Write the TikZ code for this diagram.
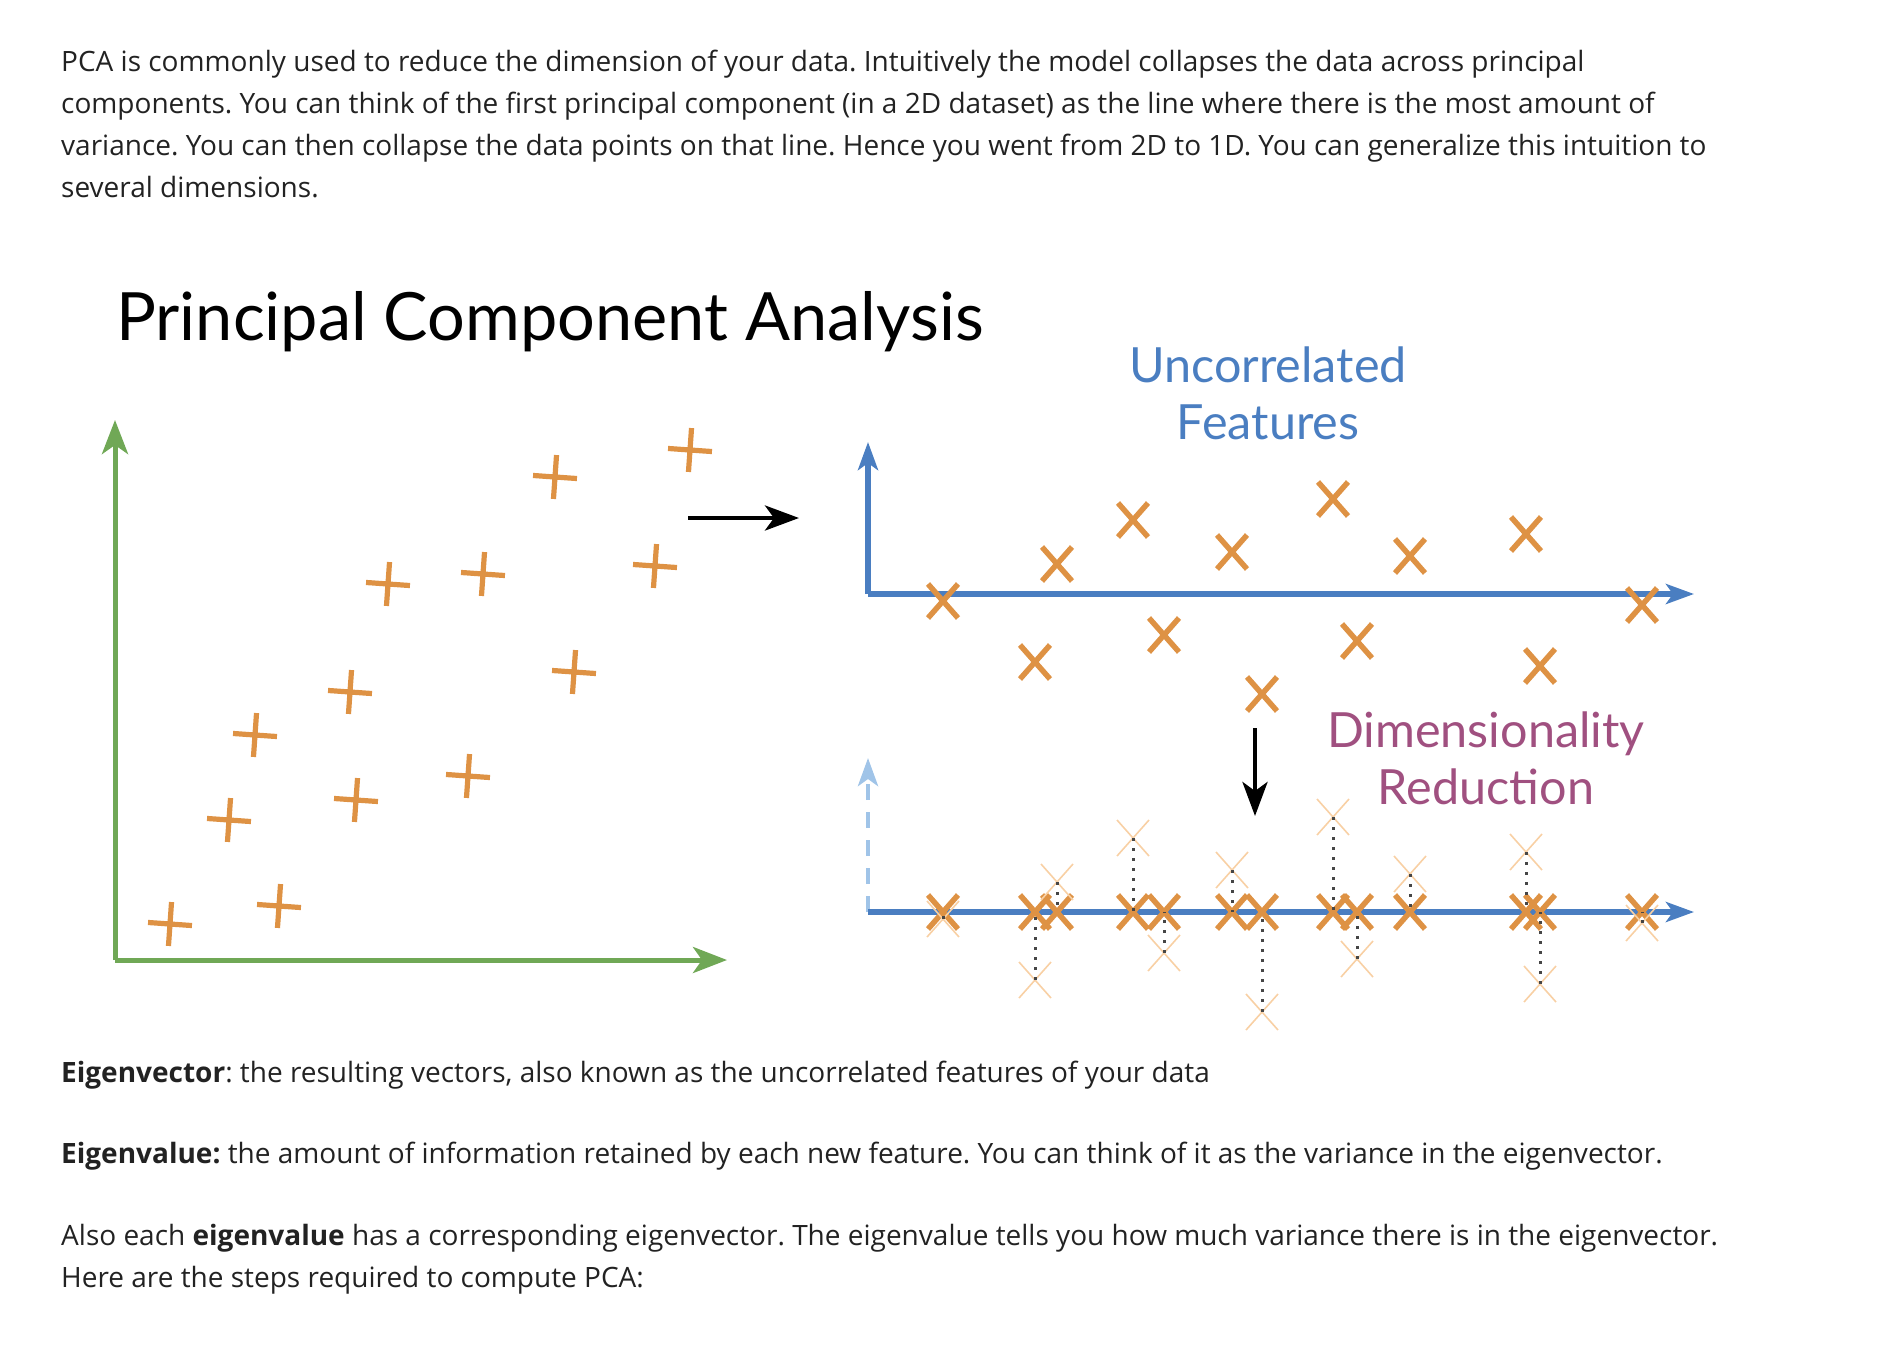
\documentclass[tikz,border=0pt]{standalone}
\usepackage{fontspec}
\setmainfont{Open Sans}
\newfontfamily\lato{Lato}
\usetikzlibrary{arrows.meta}
\frenchspacing
\definecolor{txt}{RGB}{34,34,34}
\definecolor{orangeM}{RGB}{222,146,68}
\definecolor{fadeO}{RGB}{248,208,164}
\definecolor{greenA}{RGB}{112,168,86}
\definecolor{blueA}{RGB}{74,126,193}
\definecolor{blueL}{RGB}{160,196,232}
\definecolor{purpleT}{RGB}{160,80,128}
\definecolor{dotG}{RGB}{70,70,70}
\tikzset{
  para/.style={anchor=base west, inner sep=0pt, text=txt, font=\fontsize{28}{42}\selectfont\frenchspacing},
  lbl/.style={anchor=base, inner sep=0pt, font=\lato\fontsize{48.5}{56}\selectfont},
  plusmark/.pic={\draw[orangeM, line width=5.2pt, rotate=-4] (-22,0)--(22,0) (0,-22)--(0,22);},
  xmark/.pic={\draw[orangeM, line width=5.5pt] (-15,-17)--(15,17) (-15,17)--(15,-17);},
  fadex/.pic={\draw[fadeO, line width=1.6pt] (-16,-18)--(16,18) (-16,18)--(16,-18);},
  gaxis/.style={greenA, line width=5pt, -{Stealth[length=34pt,width=26pt,inset=9pt]}},
  baxis/.style={blueA, line width=5.5pt, -{Stealth[length=28pt,width=20pt,inset=7pt]}},
  laxis/.style={blueL, line width=4.5pt, dash pattern=on 16pt off 12pt, -{Stealth[length=28pt,width=20pt,inset=7pt]}},
  karrow/.style={black, line width=4.5pt, -{Stealth[length=34pt,width=25pt,inset=9pt]}},
  dotln/.style={dotG, line width=3pt, dash pattern=on 3pt off 7pt},
}
\begin{document}
\begin{tikzpicture}[x=1pt,y=-1pt]
\useasboundingbox (0,0) rectangle (1882,1360);
% top paragraph
\node[para] (p1) at (61,71) {PCA is commonly used to reduce the dimension of your data. Intuitively the model collapses the data across principal};
\node[para] (p2) at (61,113) {components. You can think of the first principal component (in a 2D dataset) as the line where there is the most amount of};
\node[para] (p3) at (61,155) {variance. You can then collapse the data points on that line. Hence you went from 2D to 1D. You can generalize this intuition to};
\node[para] (p4) at (61,197) {several dimensions.};
% title
\node[anchor=base west, inner sep=0pt, font=\lato\fontsize{66.6}{80}\selectfont] (title) at (116,340) {Principal Component Analysis};
% left plot
\coordinate (gO) at (115,960);
\coordinate (gY) at (115,420);
\coordinate (gX) at (727,960);
\draw[gaxis] (gO) -- (gY);
\draw[gaxis] (gO) -- (gX);
\foreach \px/\py in {690/450,555/477,388/584,483/574,655/566,574/672,350/692,255/735,229/820,356/800,468/776,170/924,279/906}
  \pic at (\px,\py) {plusmark};
% black arrow
\coordinate (ka) at (688,518);
\coordinate (kb) at (799,518);
\draw[karrow] (ka) -- (kb);
% upper right plot
\coordinate (bO) at (868,594);
\coordinate (bY) at (868,442);
\coordinate (bX) at (1694,594);
\draw[baxis] (bO) -- (bY);
\draw[baxis] (bO) -- (bX);
\foreach \px/\py in {943/601,1057/564,1133/520,1232/552,1333/499,1410/556,1526/534,1642/605,1035/662,1164/635,1262/694,1357/641,1540/666}
  \pic at (\px,\py) {xmark};
\node[lbl, text=blueA] (unc1) at (1268,382) {Uncorrelated};
\node[lbl, text=blueA] (unc2) at (1268,439) {Features};
% down arrow
\coordinate (da) at (1255,728);
\coordinate (db) at (1255,816);
\draw[karrow] (da) -- (db);
\node[lbl, text=purpleT] (dim1) at (1486,747) {Dimensionality};
\node[lbl, text=purpleT] (dim2) at (1486,804) {Reduction};
% lower right plot
\coordinate (lO) at (868,912);
\coordinate (lY) at (868,758);
\coordinate (lX) at (1694,912);
\draw[laxis] (lO) -- (lY);
\draw[baxis] (lO) -- (lX);
\foreach \px/\py in {943/601,1057/564,1133/520,1232/552,1333/499,1410/556,1526/534,1642/605,1035/662,1164/635,1262/694,1357/641,1540/666}
  \pic at (\px,912) {xmark};
\foreach \px/\py in {943/601,1057/564,1133/520,1232/552,1333/499,1410/556,1526/534,1642/605,1035/662,1164/635,1262/694,1357/641,1540/666}{
  \pgfmathsetmacro\qy{\py+318}
  \pic at (\px,\qy) {fadex};
  \draw[dotln] (\px,\qy) -- (\px,912);
}
% bottom text
\node[para] (e1) at (61,1082) {\textbf{Eigenvector}: the resulting vectors, also known as the uncorrelated features of your data};
\node[para] (e2) at (61,1163) {\textbf{Eigenvalue:} the amount of information retained by each new feature. You can think of it as the variance in the eigenvector.};
\node[para] (e3) at (61,1245) {Also each \textbf{eigenvalue} has a corresponding eigenvector. The eigenvalue tells you how much variance there is in the eigenvector.};
\node[para] (e4) at (61,1287) {Here are the steps required to compute PCA:};
\end{tikzpicture}
\end{document}
